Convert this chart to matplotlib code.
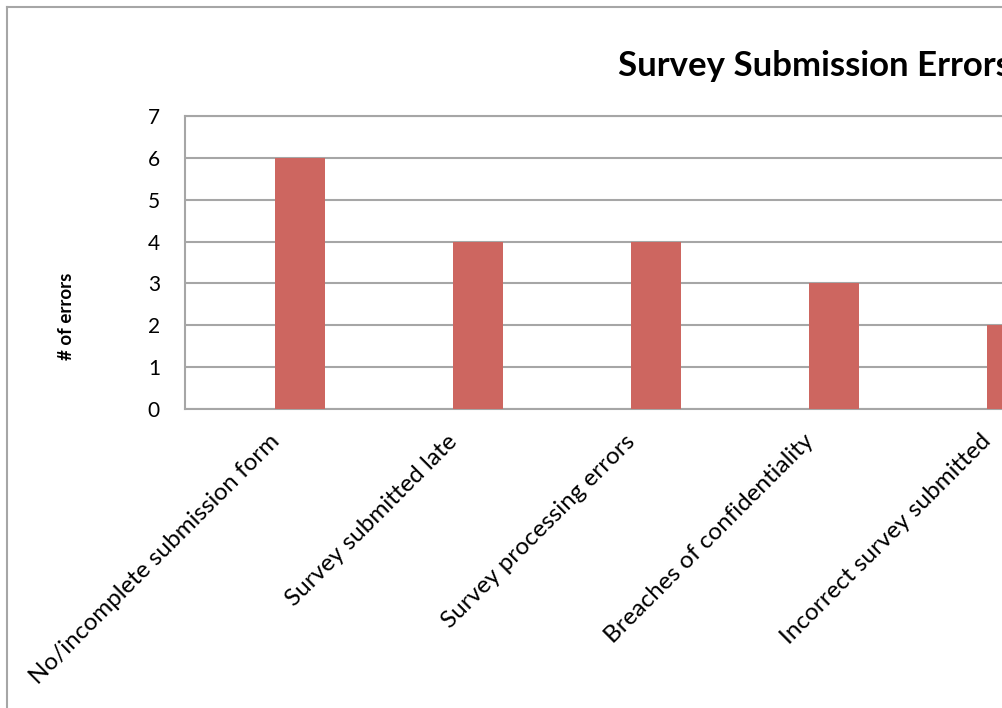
import matplotlib
matplotlib.use("Agg")
import matplotlib.pyplot as plt
from matplotlib.lines import Line2D

# data (right part of the chart is cut off in the picture)
categories = [
    "No/incomplete submission form",
    "Survey submitted late",
    "Survey processing errors",
    "Breaches of confidentiality",
    "Incorrect survey submitted",
]
errors = [6, 4, 4, 3, 2]
y_ticks = [0, 1, 2, 3, 4, 5, 6, 7]

W, H = 1003, 708
bar_color = "#CD6660"
grid_color = "#A6A6A6"
font = ["Lato", "DejaVu Sans"]

plt.rcParams["font.family"] = font

fig = plt.figure(figsize=(W / 100, H / 100), dpi=100)

# plot area in pixels: left 185, top 116 (=7), bottom 409 (=0); spacing 178 px per category
left_px, top_px, bot_px = 185, 116, 409
step = 178
first_center = 300
right_px = 1300
ax = fig.add_axes([left_px / W, 1 - bot_px / H,
                   (right_px - left_px) / W, (bot_px - top_px) / H])
x0 = -(first_center - left_px) / step
x1 = x0 + (right_px - left_px) / step
ax.set_xlim(x0, x1)
ax.set_ylim(0, 7)

ax.bar(range(len(errors)), errors, width=50 / step, color=bar_color, zorder=3)

ax.set_yticks(y_ticks)
ax.yaxis.grid(True, color=grid_color, linewidth=1.5, zorder=0)
for s in ax.spines.values():
    s.set_color(grid_color)
    s.set_linewidth(1.5)
ax.tick_params(axis="y", length=0, pad=18, labelsize=15)
ax.tick_params(axis="x", length=0)
ax.set_xticks(range(len(categories)))
ax.set_xticklabels([])

for i, c in enumerate(categories):
    ax.annotate(c, xy=(i, 0), xycoords="data", xytext=(-24, -29),
                textcoords="offset pixels", rotation=45, rotation_mode="anchor",
                ha="right", va="center", fontsize=17.5)

fig.text(67 / W, 1 - 316 / H, "# of errors", fontsize=13.5, fontweight="bold",
         rotation=90, ha="center", va="center")

fig.text(618 / W, 1 - 66 / H, "Survey Submission Errors", fontsize=25,
         fontweight="bold", ha="left", va="center")

# outer chart border
fig.add_artist(Line2D([7 / W, 7 / W], [0, 1 - 7 / H], color=grid_color, lw=1.5))
fig.add_artist(Line2D([7 / W, 1], [1 - 7 / H, 1 - 7 / H], color=grid_color, lw=1.5))

fig.savefig("out.png", dpi=100)
